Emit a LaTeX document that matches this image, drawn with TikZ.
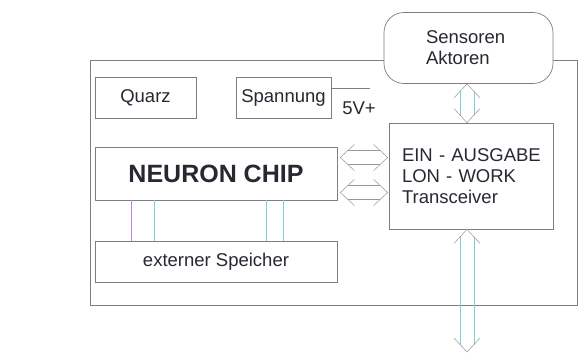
\documentclass[tikz,border=0pt]{standalone}
\usepackage{fontspec}
\setmainfont{Liberation Sans}
\usepackage{tikz}
\usetikzlibrary{calc}
\definecolor{lonGray}{RGB}{125,125,130}
\definecolor{lonCyan}{RGB}{120,210,220}
\definecolor{lonViolet}{RGB}{190,130,230}
\definecolor{lonText}{RGB}{40,40,50}
\newcommand{\dblarrow}[2]{%
  \draw[busline] ($(#1)!7.5pt!(#2)!7pt!90:(#2)$) -- ($(#2)!7.5pt!(#1)!7pt!-90:(#1)$);
  \draw[busline] ($(#1)!7.5pt!(#2)!7pt!-90:(#2)$) -- ($(#2)!7.5pt!(#1)!7pt!90:(#1)$);
  \draw[bushead] ($(#1)!14pt!(#2)!13pt!90:(#2)$) -- (#1) -- ($(#1)!14pt!(#2)!13pt!-90:(#2)$);
  \draw[bushead] ($(#2)!14pt!(#1)!13pt!90:(#1)$) -- (#2) -- ($(#2)!14pt!(#1)!13pt!-90:(#1)$);
}

\begin{document}
\begin{tikzpicture}[
  x=1pt, y=-1pt,
  font=\fontsize{18.5}{21}\selectfont,
  text=lonText,
  box/.style={draw=lonGray,line width=0.7pt,fill=white,inner sep=0pt},
  busline/.style={lonCyan,line width=0.8pt},
  bushead/.style={lonGray!70,line width=0.6pt},
  link/.style={line width=0.8pt}
]
  \useasboundingbox (0,0) rectangle (584,354);
  \fill[white] (0,0) rectangle (584,354);

  % Knoten
  \draw[lonGray,line width=0.7pt] (90,60) rectangle (577,305);
  \node[box,rounded corners=20pt,minimum height=71pt,text width=85pt,
    inner xsep=42pt,align=left] (sens) at (468.5,48) {Sensoren\\Aktoren};
  \node[box,minimum width=101pt,minimum height=41pt] (quarz) at (145.5,97.5) {Quarz};
  \node[box,minimum width=95pt,minimum height=41pt] (spann) at (283.5,97.5) {Spannung};
  \node[box,minimum width=242pt,minimum height=53pt,
    font=\fontsize{25}{28}\selectfont\bfseries] (chip) at (216,173.5) {NEURON CHIP\hspace{10pt}};
  \node[box,minimum width=242pt,minimum height=41pt] (mem) at (216,261.5) {externer Speicher\hspace{10pt}};
  \node[box,minimum height=106pt,text width=138pt,inner xsep=13pt,align=left]
    (trans) at (471,176) {\mbox{EIN - AUSGABE}\\\mbox{LON - WORK}\\Transceiver};

  % Versorgung
  \coordinate (vplus) at (370,88);
  \draw[lonGray,line width=0.6pt] (spann.east |- vplus) -- (vplus);
  \node (vlabel) at (359,108) {5V+};

  % Chip -- Speicher
  \foreach \x/\c in {131/lonViolet,154/lonCyan,266/lonCyan,283/lonCyan}
    \draw[link,\c] (chip.south -| \x,0) -- (mem.north -| \x,0);

  % Busse
  \coordinate (bus) at (467,0);
  \coordinate (netz) at (467,352);
  \coordinate (r1) at (0,157.5);
  \coordinate (r2) at (0,192.5);
  \path (chip.east |- r1) ++(3,0) coordinate (t1a);
  \path (trans.west |- r1) ++(-1,0) coordinate (t1b);
  \path (chip.east |- r2) ++(3,0) coordinate (t2a);
  \path (trans.west |- r2) ++(-1,0) coordinate (t2b);
  \coordinate (s1) at (sens.south -| bus);
  \coordinate (s2) at (trans.north -| bus);
  \coordinate (s3) at (trans.south -| bus);
  \begin{scope}[busline/.append style={lonGray!80}]
    \dblarrow{t1a}{t1b}
    \dblarrow{t2a}{t2b}
  \end{scope}
  \dblarrow{s1}{s2}
  \dblarrow{s3}{netz}
\end{tikzpicture}
\end{document}
